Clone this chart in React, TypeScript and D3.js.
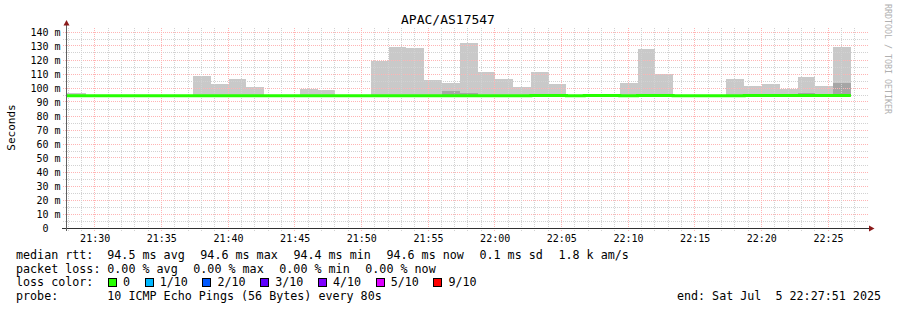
import React from "react";
import * as d3 from "d3";

// ---------- data ----------
const TITLE = "APAC/AS17547";
const Y_LABEL = "Seconds";
const WATERMARK = "RRDTOOL / TOBI OETIKER";
const START = new Date(2025, 6, 5, 21, 27, 51);
const END = new Date(2025, 6, 5, 22, 27, 51);
const FIRST_STEP = new Date(2025, 6, 5, 21, 26, 43);
const STEP_SECONDS = 80;

// per-step max rtt (ms) - top of the smoke
const smokeMax = [
  96.4, 96.4, 95, 95, 95, 95, 95, 95, 108.8, 102.6, 106.4, 100.7, 95, 95, 99.3, 98.6,
  95, 95, 119.5, 129.3, 128.6, 105.7, 103.6, 132.1, 111.4, 106.4, 100.7, 111.4, 102.9,
  95, 95, 95, 103.6, 127.9, 110, 95, 95, 95, 106.4, 101.4, 102.9, 99.3, 107.9, 101.4, 129.3,
];
// per-step upper bound of the dense (darker) smoke
const smokeDark = [
  94.6, 94.6, 94.6, 94.6, 94.6, 94.6, 94.6, 94.6, 94.6, 94.6, 94.6, 94.6, 94.6, 94.6, 94.6, 94.6,
  94.6, 94.6, 94.6, 94.6, 94.6, 94.6, 97.9, 96.4, 94.6, 94.6, 94.6, 94.6, 94.6,
  94.6, 94.6, 94.6, 94.6, 94.6, 94.6, 94.6, 94.6, 94.6, 94.6, 94.6, 94.6, 94.6, 96.4, 94.6, 103.6,
];
// per-step median rtt (ms)
const medianRtt = [
  94.55, 94.55, 94.55, 94.55, 94.55, 94.55, 94.55, 94.55, 94.55, 94.55, 94.55, 94.55, 94.55, 94.55, 94.55, 94.55,
  94.55, 94.55, 94.55, 94.55, 94.55, 94.55, 94.5, 94.5, 94.5, 94.5, 94.5, 94.6, 94.6,
  94.4, 94.6, 94.6, 94.4, 94.6, 94.6, 94.4, 94.4, 94.4, 94.4, 94.6, 94.6, 94.6, 94.6, 94.6, 94.6,
];

const yTickValues = [0, 10, 20, 30, 40, 50, 60, 70, 80, 90, 100, 110, 120, 130, 140];
const rttLabel = "median rtt:";
const rttStats = ["94.5 ms avg", "94.6 ms max", "94.4 ms min", "94.6 ms now", "0.1 ms sd", "1.8 k am/s"];
const lossLabel = "packet loss:";
const lossStats = ["0.00 % avg", "0.00 % max", "0.00 % min", "0.00 % now"];
const lossColorLabel = "loss color:";
const lossColorNames = ["0", "1/10", "2/10", "3/10", "4/10", "5/10", "9/10"];
const lossColorValues = ["#26ff00", "#00b8ff", "#0059ff", "#5e00ff", "#7e00ff", "#dd00ff", "#ff0000"];
const probeLabel = "probe:";
const probeText = "10 ICMP Echo Pings (56 Bytes) every 80s";
const endText = "end: Sat Jul  5 22:27:51 2025";

// ---------- layout ----------
const W = 897, H = 310;
const X0 = 66, X1 = 866, Y0 = 228, YTOP = 28;
const MONO = "'DejaVu Sans Mono', monospace";
const CHAR_W = 7.04;
const LEG_FS = 11.7;
const GAP = 15.6;
const VAL_COL = 107.3;
const MINOR_GRID = "#d2d2d2";
const MAJOR_GRID = "#ffb4b4";

export default function App() {
  const x = d3.scaleTime().domain([START, END]).range([X0, X1]);
  const y = d3.scaleLinear().domain([0, 140]).range([Y0, Y0 - 196]);
  const px = (v: number) => Math.floor(v) + 0.5;

  const steps = smokeMax.map((mx, i) => {
    const t0 = new Date(FIRST_STEP.getTime() + i * STEP_SECONDS * 1000);
    const t1 = new Date(t0.getTime() + STEP_SECONDS * 1000);
    return { t0, t1, max: mx, dark: smokeDark[i], med: medianRtt[i] };
  });

  const minorTimes = d3.timeMinute.every(1)!.range(START, END).filter((t) => t.getMinutes() % 5 !== 0);
  const majorTimes = d3.timeMinute.every(5)!.range(START, END);
  const fmt = d3.timeFormat("%H:%M");
  const minorY = d3.range(5, 145, 10);

  const lastStep = steps[steps.length - 1];
  const linePts: [Date, number][] = steps.map((s) => [s.t0, s.med]);
  linePts.push([lastStep.t1, lastStep.med]);
  const medLine = d3
    .line<[Date, number]>()
    .x((d) => x(d[0]))
    .y((d) => y(d[1]))
    .curve(d3.curveStepAfter)(linePts);

  // legend layout
  const rttX: number[] = [];
  let cx = VAL_COL;
  rttStats.forEach((s) => { rttX.push(cx); cx += s.length * CHAR_W + GAP; });
  const lossX: number[] = [];
  cx = VAL_COL;
  lossStats.forEach((s) => { lossX.push(cx); cx += s.length * CHAR_W + GAP; });
  const boxX: number[] = [];
  cx = 108;
  lossColorNames.forEach((s) => { boxX.push(cx); cx += 15 + s.length * CHAR_W + 14.6; });

  const row = [259, 272.5, 286, 300];

  return (
    <svg width={W} height={H} style={{ position: "absolute", left: 0, top: 0, display: "block", background: "#fff" }}
      fontFamily={MONO}>
      <rect x={0} y={0} width={W} height={H} fill="#fff" />
      <defs>
        <clipPath id="plot">
          <rect x={X0 + 1} y={YTOP} width={X1 - X0 - 1} height={Y0 - YTOP} />
        </clipPath>
      </defs>

      {/* smoke */}
      <g clipPath="url(#plot)" shapeRendering="crispEdges">
        {steps.map((s, i) => (
          <rect key={"s" + i} x={x(s.t0)} y={y(s.max)} width={x(s.t1) - x(s.t0)} height={y(s.med) - y(s.max)} fill="#c9c9c9" />
        ))}
        {steps.map((s, i) =>
          s.dark > s.med + 0.5 ? (
            <rect key={"d" + i} x={x(s.t0)} y={y(s.dark)} width={x(s.t1) - x(s.t0)} height={y(s.med) - y(s.dark)} fill="#a6a6a6" />
          ) : null
        )}
      </g>

      {/* grid */}
      <g shapeRendering="crispEdges">
        {minorY.map((v) => (
          <line key={"hy" + v} x1={63} x2={869} y1={px(y(v))} y2={px(y(v))} stroke={MINOR_GRID} strokeDasharray="1,1" />
        ))}
        {yTickValues.filter((v) => v > 0).map((v) => (
          <line key={"hmy" + v} x1={63} x2={869} y1={px(y(v))} y2={px(y(v))} stroke={MAJOR_GRID} strokeDasharray="1,1" />
        ))}
        {minorTimes.map((t, i) => (
          <line key={"vx" + i} x1={px(x(t))} x2={px(x(t))} y1={YTOP} y2={231} stroke={MINOR_GRID} strokeDasharray="1,1" />
        ))}
        {majorTimes.map((t, i) => (
          <line key={"vmx" + i} x1={px(x(t))} x2={px(x(t))} y1={YTOP} y2={231} stroke={MAJOR_GRID} strokeDasharray="1,1" />
        ))}
      </g>

      {/* median line */}
      <g clipPath="url(#plot)">
        <path d={medLine || ""} fill="none" stroke="#26ff00" strokeWidth={3} />
      </g>

      {/* axes */}
      <g shapeRendering="crispEdges">
        <line x1={62} x2={869} y1={Y0 + 0.5} y2={Y0 + 0.5} stroke="#303030" />
        <line x1={X0 + 0.5} x2={X0 + 0.5} y1={231} y2={24} stroke="#606060" />
      </g>
      <path d={`M${X0 + 0.5},20 L${X0 + 3.5},25.5 L${X0 - 2.5},25.5 Z`} fill="#8b1a1a" />
      <path d={`M874.5,${Y0 + 0.5} L869,${Y0 - 2.5} L869,${Y0 + 3.5} Z`} fill="#8b1a1a" />

      {/* y tick labels */}
      {yTickValues.map((v) => (
        <text key={"yl" + v} x={60.5} y={y(v) + 3.6} textAnchor="end" fontSize={10} xmlSpace="preserve">
          {v === 0 ? "0  " : `${v} m`}
        </text>
      ))}
      {/* x tick labels */}
      {majorTimes.map((t, i) => (
        <text key={"xl" + i} x={x(t) + 0.5} y={242} textAnchor="middle" fontSize={10}>
          {fmt(t)}
        </text>
      ))}

      {/* title & labels */}
      <text x={448} y={24} textAnchor="middle" fontSize={13}>{TITLE}</text>
      <text transform="translate(15,127.5) rotate(-90)" textAnchor="middle" fontSize={11}>{Y_LABEL}</text>
      <text transform="translate(884.5,4) rotate(90)" fontSize={8.3} fill="#b0b0b0">{WATERMARK}</text>

      {/* legend */}
      <g fontSize={LEG_FS}>
        <text x={16} y={row[0]}>{rttLabel}</text>
        {rttStats.map((s, i) => (<text key={"r" + i} x={rttX[i]} y={row[0]} xmlSpace="preserve">{s}</text>))}
        <text x={16} y={row[1]}>{lossLabel}</text>
        {lossStats.map((s, i) => (<text key={"l" + i} x={lossX[i]} y={row[1]} xmlSpace="preserve">{s}</text>))}
        <text x={16} y={row[2]}>{lossColorLabel}</text>
        {lossColorNames.map((s, i) => (
          <g key={"c" + i}>
            <rect x={boxX[i] + 0.5} y={278.5} width={8} height={8} fill={lossColorValues[i]} stroke="#000" shapeRendering="crispEdges" />
            <text x={boxX[i] + 15} y={row[2]}>{s}</text>
          </g>
        ))}
        <text x={16} y={row[3]}>{probeLabel}</text>
        <text x={VAL_COL} y={row[3]} xmlSpace="preserve">{probeText}</text>
        <text x={881} y={row[3]} textAnchor="end" xmlSpace="preserve">{endText}</text>
      </g>
    </svg>
  );
}
